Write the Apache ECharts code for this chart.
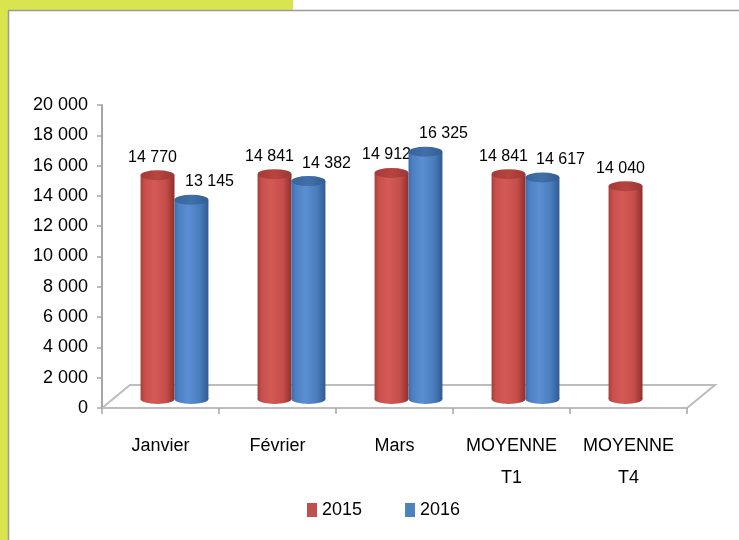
<!DOCTYPE html>
<html><head><meta charset="utf-8">
<script src="https://cdn.jsdelivr.net/npm/echarts@6/dist/echarts.min.js"></script>
<style>html,body{margin:0;padding:0;background:#fff}#c{width:739px;height:540px}</style>
</head><body><div id="c"></div>
<script>
// ---- data ----
const categories = ['Janvier', 'Février', 'Mars', 'MOYENNE\nT1', 'MOYENNE\nT4'];
const seriesNames = ['2015', '2016'];
const values2015 = [14770, 14841, 14912, 14841, 14040];
const values2016 = [13145, 14382, 16325, 14617, null];
const yMin = 0, yMax = 20000, yInterval = 2000;

// ---- style ----
const FONT = '"Liberation Sans", Arial, sans-serif';
const GRID = { left: 102, right: 52, top: 105, bottom: 132 };
const DEPTH_X = 28, DEPTH_Y = -23;   // floor depth (oblique projection)
const DX = 14, DY = -9;              // bars placed mid-depth
const fmt = v => String(v).replace(/\B(?=(\d{3})+(?!\d))/g, ' ');

const styles = [
  {
    legend: '#c0504d',
    body: { type: 'linear', x: 0, y: 0, x2: 1, y2: 0, colorStops: [
      { offset: 0, color: '#a53e3b' }, { offset: 0.12, color: '#c84f4b' },
      { offset: 0.4, color: '#d35a56' }, { offset: 0.75, color: '#c64e4a' },
      { offset: 1, color: '#8f2f2c' } ] },
    top: { type: 'linear', x: 0, y: 0, x2: 1, y2: 0, colorStops: [
      { offset: 0, color: '#a23b38' }, { offset: 0.5, color: '#b8443f' }, { offset: 1, color: '#9a3835' } ] },
    labelDx: -5
  },
  {
    legend: '#4f81bd',
    body: { type: 'linear', x: 0, y: 0, x2: 1, y2: 0, colorStops: [
      { offset: 0, color: '#3e6ea9' }, { offset: 0.12, color: '#4c80c3' },
      { offset: 0.4, color: '#5a8fd2' }, { offset: 0.75, color: '#4a7dbd' },
      { offset: 1, color: '#2f5b91' } ] },
    top: { type: 'linear', x: 0, y: 0, x2: 1, y2: 0, colorStops: [
      { offset: 0, color: '#36649c' }, { offset: 0.5, color: '#416fa9' }, { offset: 1, color: '#325e94' } ] },
    labelDx: 18
  }
];

function makeRender(si) {
  const st = styles[si];
  return function (params, api) {
    const i = api.value(0), v = api.value(1);
    const base = api.coord([i, 0]);
    const top = api.coord([i, v]);
    const catW = api.size([1, 0])[0];
    const bw = catW * 0.29, r = bw / 2, ry = 5;
    const cx = base[0] + (si === 0 ? -r : r) + DX;
    const yb = base[1] + DY, yt = top[1] + DY;
    return { type: 'group', children: [
      { type: 'circle', x: cx, y: yb, scaleY: ry / r, shape: { cx: 0, cy: 0, r: r }, style: { fill: st.body } },
      { type: 'rect', shape: { x: cx - r, y: yt, width: bw, height: yb - yt }, style: { fill: st.body } },
      { type: 'circle', x: cx, y: yt, scaleY: ry / r, shape: { cx: 0, cy: 0, r: r }, style: { fill: st.top } },
      { type: 'text', x: cx + st.labelDx, y: yt - 18,
        style: { text: fmt(v), fill: '#000', font: '16px ' + FONT, align: 'center', verticalAlign: 'middle' } }
    ]};
  };
}

const toData = arr => arr.map((v, i) => v == null ? null : [i, v]).filter(d => d);
const allValues = [values2015, values2016];

const chart = echarts.init(document.getElementById('c'), null, { renderer: 'canvas' });
chart.setOption({
  animation: false,
  backgroundColor: '#fff',
  textStyle: { fontFamily: FONT },
  grid: GRID,
  legend: {
    data: seriesNames, left: 302, top: 496, itemWidth: 10, itemHeight: 14, itemGap: 43,
    icon: 'rect', textStyle: { fontSize: 18, color: '#000', fontFamily: FONT }
  },
  xAxis: {
    type: 'category', data: categories, boundaryGap: true,
    axisLine: { lineStyle: { color: '#bdbdbd', width: 2 } },
    axisTick: { show: true, length: 6, lineStyle: { color: '#a6a6a6', width: 1.5 } },
    axisLabel: { fontSize: 18, color: '#000', margin: 22, lineHeight: 32, fontFamily: FONT, interval: 0 }
  },
  yAxis: {
    type: 'value', min: yMin, max: yMax, interval: yInterval,
    axisLine: { show: true, lineStyle: { color: '#a6a6a6', width: 2 } },
    axisTick: { show: true, length: 5, lineStyle: { color: '#a6a6a6', width: 1.5 } },
    splitLine: { show: false },
    axisLabel: { fontSize: 18, color: '#000', margin: 14, fontFamily: FONT, formatter: v => fmt(v) }
  },
  series: seriesNames.map((name, si) => ({
    name: name, type: 'custom', renderItem: makeRender(si),
    itemStyle: { color: styles[si].legend },
    encode: { x: 0, y: 1 }, data: toData(allValues[si]), z: 3
  }))
});

// decorations: page frame and 3D floor derived from the axes
const y0 = chart.convertToPixel({ yAxisIndex: 0 }, yMin);
const xL = GRID.left, xR = 739 - GRID.right;
const floorStyle = { stroke: '#bdbdbd', lineWidth: 2 };
chart.setOption({
  graphic: [
    { type: 'rect', shape: { x: 0, y: 0, width: 8, height: 540 }, style: { fill: '#d9e54f' }, z: 0 },
    { type: 'rect', shape: { x: 0, y: 0, width: 293, height: 10 }, style: { fill: '#d9e54f' }, z: 0 },
    { type: 'line', shape: { x1: 8, y1: 10.5, x2: 739, y2: 10.5 }, style: { stroke: '#9a9a9a', lineWidth: 1.5 }, z: 0 },
    { type: 'line', shape: { x1: 8.5, y1: 10, x2: 8.5, y2: 540 }, style: { stroke: '#9a9a9a', lineWidth: 1.5 }, z: 0 },
    { type: 'polyline', shape: { points: [[xL, y0], [xL + DEPTH_X, y0 + DEPTH_Y], [xR + DEPTH_X, y0 + DEPTH_Y], [xR, y0]] },
      style: Object.assign({ fill: null }, floorStyle), z: 0 }
  ]
});
</script>
</body></html>
